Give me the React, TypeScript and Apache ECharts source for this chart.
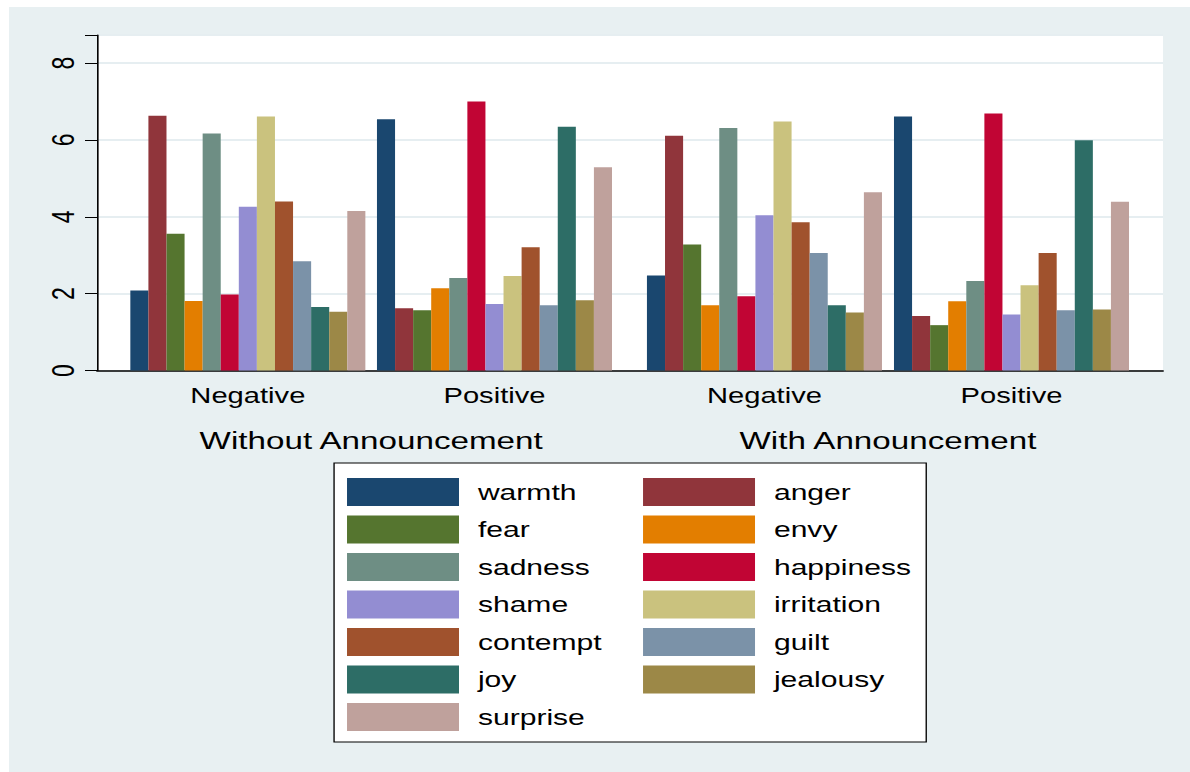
import React, { useEffect, useRef } from "react";
import * as echarts from "echarts";

// ---- data ----
const innerLabels = ["Negative", "Positive", "Negative", "Positive"];
const outerLabels = ["Without Announcement", "With Announcement"];
const yTicks = [0, 2, 4, 6, 8];

const emotions = [
  "warmth", "anger", "fear", "envy", "sadness", "happiness", "shame",
  "irritation", "contempt", "guilt", "joy", "jealousy", "surprise",
];
const colors = [
  "#1a476f", "#90353b", "#55752f", "#e37e00", "#6e8e84", "#c10534", "#938dd2",
  "#cac27e", "#a0522d", "#7b92a8", "#2d6d66", "#9c8847", "#bfa19c",
];

const warmth = [2.08, 6.54, 2.47, 6.61];
const anger = [6.63, 1.62, 6.11, 1.42];
const fear = [3.56, 1.57, 3.28, 1.18];
const envy = [1.81, 2.14, 1.70, 1.80];
const sadness = [6.17, 2.41, 6.31, 2.33];
const happiness = [1.98, 7.00, 1.93, 6.69];
const shame = [4.26, 1.73, 4.04, 1.46];
const irritation = [6.61, 2.46, 6.48, 2.22];
const contempt = [4.40, 3.21, 3.86, 3.06];
const guilt = [2.84, 1.70, 3.06, 1.57];
const joy = [1.65, 6.34, 1.70, 5.99];
const jealousy = [1.53, 1.83, 1.51, 1.59];
const surprise = [4.15, 5.29, 4.64, 4.39];

const values: number[][] = [
  warmth, anger, fear, envy, sadness, happiness, shame,
  irritation, contempt, guilt, joy, jealousy, surprise,
];

// ---- layout (unstretched coordinates; whole chart stretched horizontally) ----
const W = 882;
const H = 772;
const S = 1190 / W;
const FONT = "Liberation Sans";
const Y_MAX = 8.73;
const PLOT_TOP = 35;
const PLOT_BOTTOM = H - 370.5;
const groupLefts = [96.6, 279.4, 479.5, 662.6];
const GROUP_W = 174.2;

export default function App() {
  const ref = useRef<HTMLDivElement>(null);
  useEffect(() => {
    if (!ref.current) return;
    const chart = echarts.init(ref.current, undefined, { renderer: "svg" });

    const grids: any[] = [
      {
        left: 71.9, right: W - 862, top: PLOT_TOP, bottom: PLOT_BOTTOM,
        show: true, backgroundColor: "#ffffff", borderWidth: 0,
      },
    ];
    const xAxes: any[] = [
      {
        type: "category", gridIndex: 0, data: [""],
        axisLine: { show: true, lineStyle: { color: "#000", width: 1.5 } },
        axisTick: { show: false }, axisLabel: { show: false }, splitLine: { show: false },
      },
    ];
    const yAxes: any[] = [
      {
        type: "value", gridIndex: 0, min: 0, max: Y_MAX, interval: 2,
        axisLine: { show: true, lineStyle: { color: "#000", width: 1.2 } },
        axisTick: { show: true, length: 8.9, lineStyle: { color: "#000", width: 1 } },
        axisLabel: {
          rotate: 90, margin: 13.5, fontSize: 23, color: "#000", fontFamily: FONT,
          formatter: (v: number) => (yTicks.includes(v) ? String(v) : ""),
        },
        splitLine: { show: true, lineStyle: { color: "#e6eef1", width: 2 } },
      },
    ];
    groupLefts.forEach((l, g) => {
      grids.push({ left: l, width: GROUP_W, top: PLOT_TOP, bottom: PLOT_BOTTOM });
      xAxes.push({
        type: "category", gridIndex: g + 1, data: [innerLabels[g]],
        axisLine: { show: false }, axisTick: { show: false },
        axisLabel: { margin: 14, fontSize: 21.6, color: "#000", fontFamily: FONT },
      });
      yAxes.push({ type: "value", gridIndex: g + 1, min: 0, max: Y_MAX, show: false });
    });
    outerLabels.forEach((lab, k) => {
      const l = groupLefts[k * 2];
      const r = groupLefts[k * 2 + 1] + GROUP_W;
      grids.push({ left: l, width: r - l, top: PLOT_TOP, bottom: PLOT_BOTTOM });
      xAxes.push({
        type: "category", gridIndex: 5 + k, data: [lab],
        axisLine: { show: false }, axisTick: { show: false },
        axisLabel: { margin: 57.5, fontSize: 24.6, color: "#000", fontFamily: FONT },
      });
      yAxes.push({ type: "value", gridIndex: 5 + k, min: 0, max: Y_MAX, show: false });
    });

    const series: any[] = [];
    for (let g = 0; g < 4; g++) {
      emotions.forEach((e, i) => {
        series.push({
          type: "bar", name: e, xAxisIndex: g + 1, yAxisIndex: g + 1,
          data: [values[i][g]],
          itemStyle: { color: colors[i] },
          barGap: "0%", barCategoryGap: "0%",
        });
      });
    }

    chart.setOption({
      animation: false,
      color: colors,
      graphic: [
        {
          type: "rect", z: -10, silent: true,
          shape: { x: 9 / S, y: 7, width: W - 9 / S, height: H - 7 },
          style: { fill: "#e8f0f2" },
        },
      ],
      grid: grids,
      xAxis: xAxes,
      yAxis: yAxes,
      legend: {
        data: emotions,
        left: 247.6, top: 463, width: 430,
        orient: "horizontal",
        backgroundColor: "#ffffff", borderColor: "#000", borderWidth: 1,
        padding: [15, 0, 11, 9.6],
        itemGap: 9.5, itemWidth: 83, itemHeight: 28,
        icon: "rect",
        selectedMode: false,
        textStyle: {
          fontSize: 22.3, color: "#000", fontFamily: FONT,
          padding: [0, 0, 0, 9], width: 112.9, lineHeight: 28,
        },
      },
      series,
    });
    return () => chart.dispose();
  }, []);
  return (
    <div
      ref={ref}
      style={{
        position: "absolute", left: 0, top: 0, width: W, height: H,
        transform: `scaleX(${S})`, transformOrigin: "0 0",
      }}
    />
  );
}
